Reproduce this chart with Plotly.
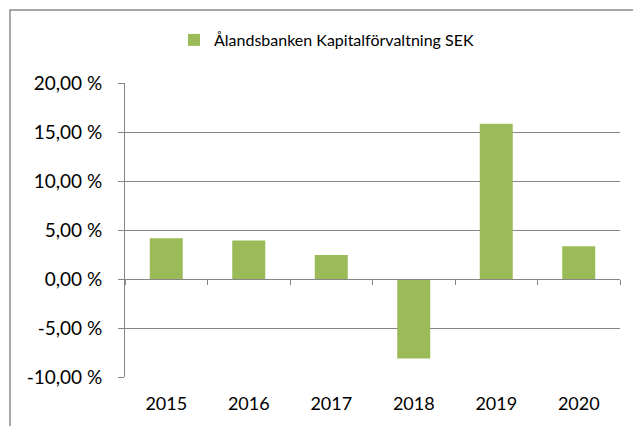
import plotly.graph_objects as go

years = ["2015", "2016", "2017", "2018", "2019", "2020"]
returns = [4.15, 3.92, 2.45, -8.1, 15.85, 3.35]
series_name = "Ålandsbanken Kapitalförvaltning SEK"
y_ticks = [-10, -5, 0, 5, 10, 15, 20]

idx = list(range(len(years)))
bounds = [i - 0.5 for i in range(len(years) + 1)]

W, H = 633, 426
ML, MR, MT, MB = 125, 13, 83, 49
pw, ph = W - ML - MR, H - MT - MB
FONT = "Lato"
GRAY = "#868686"

fig = go.Figure()
fig.add_trace(go.Bar(x=idx, y=returns, name=series_name, marker_color="#9BBB59",
                     marker_line_width=0, xaxis="x", yaxis="y"))
# helper (invisible) trace so the zero-line axis with boundary ticks is drawn
fig.add_trace(go.Scatter(x=idx, y=returns, mode="none", showlegend=False,
                         hoverinfo="skip", xaxis="x2", yaxis="y"))

ylab = [f"{v:.2f}".replace(".", ",") + " %" for v in y_ticks]

fig.update_layout(
    width=W, height=H,
    margin=dict(l=ML, r=MR, t=MT, b=MB),
    paper_bgcolor="white", plot_bgcolor="white",
    bargap=0.6,
    font=dict(family=FONT, color="#000000"),
    showlegend=True,
    legend=dict(orientation="h", xref="container", yref="container",
                x=174 / W, xanchor="left", y=1 - 40 / H, yanchor="middle",
                font=dict(size=16, family=FONT), itemwidth=30),
    xaxis=dict(range=[-0.5, len(years) - 0.5], tickvals=idx, ticktext=years,
               showline=False, showgrid=False, zeroline=False, ticks="",
               tickfont=dict(size=18, family=FONT), ticklabelstandoff=14),
    xaxis2=dict(range=[-0.5, len(years) - 0.5], overlaying="x", anchor="free",
                position=(0 - y_ticks[0]) / (y_ticks[-1] - y_ticks[0]),
                tickvals=bounds, showticklabels=False, ticks="outside", ticklen=5,
                tickcolor=GRAY, showline=True, linecolor=GRAY, linewidth=1,
                showgrid=False, zeroline=False),
    yaxis=dict(range=[y_ticks[0], y_ticks[-1]], tickvals=y_ticks, ticktext=ylab,
               showgrid=True, gridcolor=GRAY, gridwidth=1, zeroline=False,
               showline=True, linecolor=GRAY, linewidth=1,
               ticks="outside", ticklen=6, tickcolor=GRAY,
               tickfont=dict(size=19, family=FONT), ticklabelstandoff=12),
    shapes=[dict(type="rect", xref="paper", yref="paper",
                 x0=(10 - ML) / pw, x1=1.2, y0=-0.5, y1=(H - MB - 10) / ph,
                 line=dict(color="#8c8c8c", width=1.5), fillcolor="rgba(0,0,0,0)", layer="below")],
)

fig.write_html("out.html")
